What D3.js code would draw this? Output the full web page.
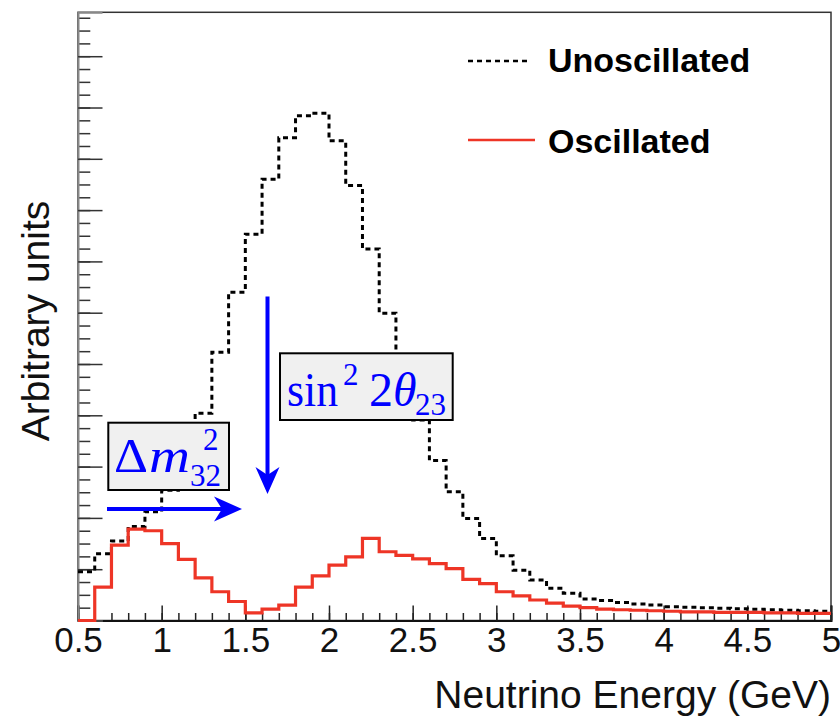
<!DOCTYPE html>
<html>
<head>
<meta charset="utf-8">
<script src="https://cdn.jsdelivr.net/npm/d3@7"></script>
<style>
  body { margin: 0; background: #fff; }
  svg { display: block; font-family: "Liberation Sans", Arial, sans-serif; }
</style>
</head>
<body>
<svg width="840" height="720"></svg>
<script>
// bin lower edges (GeV), width 0.1
const binLow = [0.5, 0.6, 0.7, 0.8, 0.9, 1.0, 1.1, 1.2, 1.3, 1.4,
  1.5, 1.6, 1.7, 1.8, 1.9, 2.0, 2.1, 2.2, 2.3, 2.4,
  2.5, 2.6, 2.7, 2.8, 2.9, 3.0, 3.1, 3.2, 3.3, 3.4,
  3.5, 3.6, 3.7, 3.8, 3.9, 4.0, 4.1, 4.2, 4.3, 4.4,
  4.5, 4.6, 4.7, 4.8, 4.9];
const binWidth = 0.1;

const unoscillated = [0.95, 1.30, 1.55, 1.83, 2.12, 2.54, 3.23, 4.04, 5.23, 6.40,
  7.53, 8.60, 9.41, 9.84, 9.89, 9.35, 8.48, 7.24, 5.99, 4.94,
  3.91, 3.12, 2.51, 1.99, 1.60, 1.26, 0.98, 0.79, 0.63, 0.53,
  0.42, 0.39, 0.35, 0.32, 0.30, 0.27, 0.26, 0.25, 0.24, 0.23,
  0.22, 0.21, 0.20, 0.19, 0.18];

const oscillated = [0.00, 0.65, 1.47, 1.78, 1.75, 1.50, 1.19, 0.83, 0.56, 0.37,
  0.15, 0.22, 0.30, 0.65, 0.87, 1.08, 1.24, 1.60, 1.34, 1.27,
  1.20, 1.11, 1.01, 0.80, 0.72, 0.56, 0.48, 0.40, 0.34, 0.28,
  0.25, 0.22, 0.21, 0.20, 0.19, 0.18, 0.17, 0.17, 0.16, 0.16,
  0.16, 0.15, 0.15, 0.14, 0.14];

const xTicks = [0.5, 1, 1.5, 2, 2.5, 3, 3.5, 4, 4.5, 5];
const legendLabels = ['Unoscillated', 'Oscillated'];

const red = '#ee3526';
const blue = '#0000ff';

const plotLeft = 78, plotRight = 831, plotTop = 12.3, plotBottom = 620.5;
const svg = d3.select('svg');

const x = d3.scaleLinear().domain([0.5, 5]).range([plotLeft, plotRight]);
const y = d3.scaleLinear().domain([0, 11.856]).range([plotBottom, plotTop]);

// frame
svg.append('rect')
    .attr('x', plotLeft).attr('y', plotTop)
    .attr('width', plotRight - plotLeft).attr('height', plotBottom - plotTop)
    .attr('fill', 'none').attr('stroke', '#333').attr('stroke-width', 1.5);

// axes
const minorX = d3.range(5, 51).map(d => d / 10);
svg.append('g')
    .attr('transform', `translate(0, ${plotBottom})`)
    .call(d3.axisBottom(x).tickValues(minorX).tickSize(-7.5).tickFormat(''))
    .call(g => g.select('.domain').remove())
    .call(g => g.selectAll('line').attr('stroke', '#222').attr('stroke-width', 1.5));

svg.append('g')
    .attr('class', 'x-axis')
    .attr('transform', `translate(0, ${plotBottom})`)
    .call(d3.axisBottom(x).tickValues(xTicks).tickSize(-15).tickPadding(7).tickFormat(d3.format('')))
    .call(g => g.select('.domain').attr('stroke', '#111').attr('stroke-width', 2))
    .call(g => g.selectAll('line').attr('stroke', '#222').attr('stroke-width', 1.5))
    .call(g => g.selectAll('text').attr('font-size', 35).attr('fill', '#111')
        .attr('font-family', '"Liberation Sans", Arial, sans-serif'));

const minorY = d3.range(0, 48).map(d => d / 4);
svg.append('g')
    .attr('transform', `translate(${plotLeft}, 0)`)
    .call(d3.axisLeft(y).tickValues(minorY).tickSize(-12.3).tickFormat(''))
    .call(g => g.select('.domain').remove())
    .call(g => g.selectAll('line').attr('stroke', '#333').attr('stroke-width', 1.5));

svg.append('g')
    .attr('transform', `translate(${plotLeft}, 0)`)
    .call(d3.axisLeft(y).tickValues(d3.range(0, 12)).tickSize(-24.5).tickFormat(''))
    .call(g => g.select('.domain').attr('stroke', '#888').attr('stroke-width', 2))
    .call(g => g.selectAll('line').attr('stroke', '#333').attr('stroke-width', 1.5));

// axis titles
svg.append('text')
    .attr('x', plotRight).attr('y', 708)
    .attr('text-anchor', 'end')
    .attr('font-size', 39).attr('fill', '#111')
    .text('Neutrino Energy (GeV)');

svg.append('text')
    .attr('transform', `translate(49, 321) rotate(-90)`)
    .attr('text-anchor', 'middle')
    .attr('font-size', 39).attr('fill', '#111')
    .text('Arbitrary units');

// histograms
function stepPoints(vals) {
  const pts = vals.map((v, i) => [binLow[i], v]);
  pts.push([binLow[binLow.length - 1] + binWidth, vals[vals.length - 1]]);
  return pts;
}
const line = d3.line()
    .x(d => x(d[0])).y(d => y(d[1]))
    .curve(d3.curveStepAfter);

svg.append('path')
    .datum(stepPoints(unoscillated))
    .attr('d', line)
    .attr('fill', 'none').attr('stroke', '#000')
    .attr('stroke-width', 3).attr('stroke-dasharray', '5,4');

svg.append('path')
    .datum(stepPoints(oscillated))
    .attr('d', line)
    .attr('fill', 'none').attr('stroke', red)
    .attr('stroke-width', 3.2);

// legend
const legend = svg.append('g').attr('class', 'legend');
legend.append('line')
    .attr('x1', 468).attr('x2', 530).attr('y1', 61).attr('y2', 61)
    .attr('stroke', '#000').attr('stroke-width', 2.5).attr('stroke-dasharray', '5,4');
legend.append('line')
    .attr('x1', 468).attr('x2', 535).attr('y1', 140).attr('y2', 140)
    .attr('stroke', red).attr('stroke-width', 2.5);
legend.selectAll('text').data(legendLabels).enter().append('text')
    .attr('x', 548).attr('y', (d, i) => i ? 153 : 72)
    .attr('font-size', 34).attr('font-weight', 'bold').attr('fill', '#000')
    .text(d => d);

// annotations
const serif = '"Liberation Serif", "Times New Roman", serif';
function box(x0, y0, w, h) {
  svg.append('rect')
      .attr('x', x0).attr('y', y0).attr('width', w).attr('height', h)
      .attr('fill', '#f0f0f0').attr('stroke', '#000').attr('stroke-width', 2);
}
function mtext(tx, ty, size, txt, italic, len) {
  const t = svg.append('text')
      .attr('x', tx).attr('y', ty)
      .attr('font-family', serif).attr('font-size', size)
      .attr('font-style', italic ? 'italic' : 'normal')
      .attr('fill', blue)
      .text(txt);
  if (len) t.attr('textLength', len).attr('lengthAdjust', 'spacingAndGlyphs');
}

box(108.3, 422.7, 120.7, 67.3);
mtext(114, 472, 48, 'Δ', false, 34);
mtext(149, 472, 48, 'm', true, 41);
mtext(203, 450, 31, '2');
mtext(190, 486, 31, '32');

box(280, 353.3, 172.7, 66.7);
mtext(287, 406, 48, 'sin', false, 51);
mtext(343, 385, 31, '2');
mtext(369, 406, 48, '2');
mtext(393, 406, 48, 'θ', true);
mtext(415, 415, 31, '23');

// arrows
const arrows = svg.append('g').attr('fill', blue).attr('stroke', blue);
arrows.append('line')
    .attr('x1', 107).attr('x2', 222).attr('y1', 509).attr('y2', 509)
    .attr('stroke-width', 4);
arrows.append('path')
    .attr('d', 'M242,509 L214,496.5 L222,509 L214,521.5 Z')
    .attr('stroke', 'none');
arrows.append('line')
    .attr('x1', 267.5).attr('x2', 267.5).attr('y1', 296.5).attr('y2', 475)
    .attr('stroke-width', 4);
arrows.append('path')
    .attr('d', 'M267.5,494 L255.5,467 L267.5,475 L279.5,467 Z')
    .attr('stroke', 'none');
</script>
</body>
</html>
